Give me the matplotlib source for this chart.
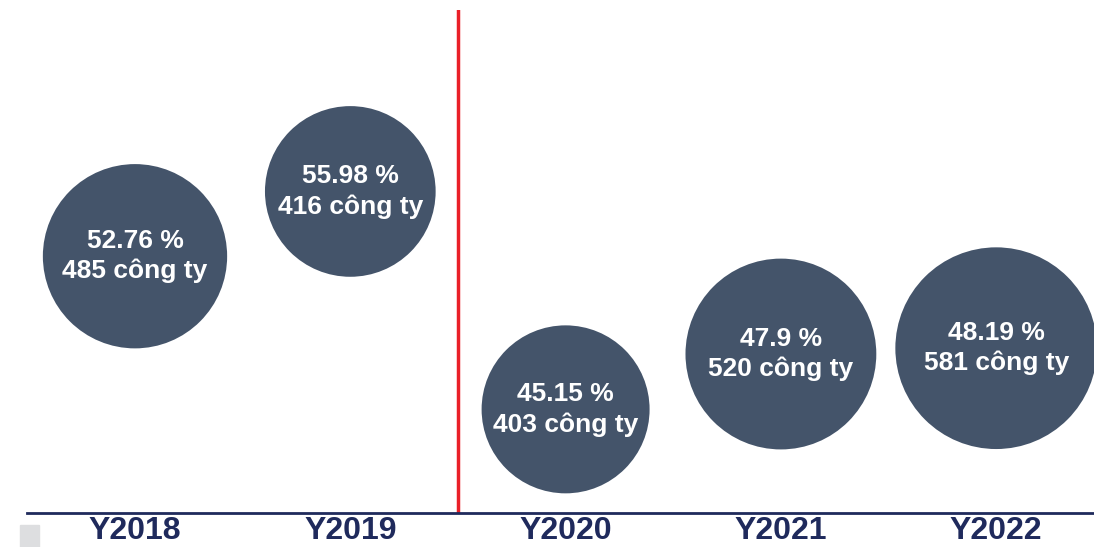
import matplotlib.pyplot as plt
from matplotlib.patches import Rectangle

years = ["Y2018", "Y2019", "Y2020", "Y2021", "Y2022"]
percent = [52.76, 55.98, 45.15, 47.9, 48.19]
companies = [485, 416, 403, 520, 581]

plt.rcParams["font.family"] = ["Liberation Sans", "DejaVu Sans"]

fig = plt.figure(figsize=(10.94, 5.47), dpi=100)
ax = fig.add_axes([0.025, 0.0622, 0.984, 0.9196])

x = list(range(len(years)))
ax.scatter(x, percent, s=[36.3 * n for n in companies],
           color="#44546A", edgecolors="none", zorder=3, clip_on=False)

for xi, p, n in zip(x, percent, companies):
    ax.text(xi, p, f"{p:g} %\n{n} công ty", ha="center", va="center",
            color="white", fontsize=19, fontweight="bold",
            linespacing=1.3, zorder=4)

ax.axvline(1.5, color="#EA1F28", linewidth=2.5, zorder=2)

ax.set_xlim(-0.5, 4.5)
ax.set_ylim(40, 65)
ax.set_xticks(x)
ax.set_xticklabels(years, fontsize=23, fontweight="bold", color="#1F2A5C")
ax.tick_params(axis="x", length=0, pad=2)
ax.set_yticks([])

for side in ["top", "right", "left"]:
    ax.spines[side].set_visible(False)
ax.spines["bottom"].set_color("#1F2A5C")
ax.spines["bottom"].set_linewidth(2)

fig.patches.append(Rectangle((20 / 1094, 0), 19 / 1094, 22 / 547,
                             transform=fig.transFigure, color="#DDDEE0"))

fig.savefig("out.png", dpi=100)
